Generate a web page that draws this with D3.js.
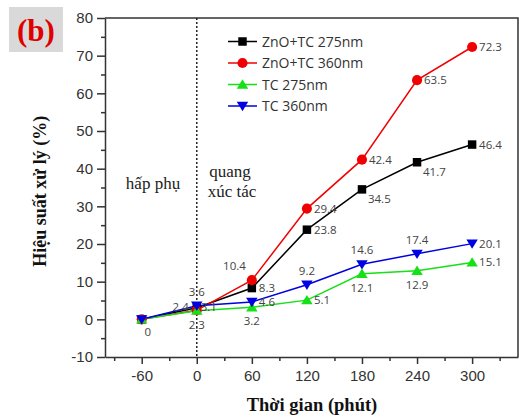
<!DOCTYPE html>
<html>
<head>
<meta charset="utf-8">
<script src="https://cdn.jsdelivr.net/npm/d3@7"></script>
<style>
  body { margin: 0; background: #fff; }
  svg { display: block; }
</style>
</head>
<body>
<div id="chart"></div>
<script>
// data
const times = [-60, 0, 60, 120, 180, 240, 300];
const zno275 = [0, 3.1, 8.3, 23.8, 34.5, 41.7, 46.4];
const zno360 = [0, 2.4, 10.4, 29.4, 42.4, 63.5, 72.3];
const tc275 = [0, 2.3, 3.2, 5.1, 12.1, 12.9, 15.1];
const tc360 = [0, 3.6, 4.6, 9.2, 14.6, 17.4, 20.1];
const seriesNames = ['ZnO+TC 275nm', 'ZnO+TC 360nm', 'TC 275nm', 'TC 360nm'];
const xTicks = [-60, 0, 60, 120, 180, 240, 300];
const yTicks = [-10, 0, 10, 20, 30, 40, 50, 60, 70, 80];

const W = 519, H = 418;
const m = { top: 18, right: 1, bottom: 61, left: 105 };

// where each value label sits relative to its point
const labelPos = [
  [null, 'hid', 'r', 'r', 'br', 'br', 'r'],
  [null, 'l', 'al', 'r', 'r', 'r', 'r'],
  [null, 'b', 'b', 'r', 'b', 'b', 'r'],
  ['b0', 'a', 'r', 'a', 'a', 'a', 'r']
];

const series = [
  { name: seriesNames[0], values: zno275, color: '#000000', shape: d3.symbolSquare },
  { name: seriesNames[1], values: zno360, color: '#f00000', shape: d3.symbolCircle },
  { name: seriesNames[2], values: tc275, color: '#16e016', shape: 'up' },
  { name: seriesNames[3], values: tc360, color: '#0000e0', shape: 'down' }
];

const svg = d3.select('#chart').append('svg')
  .attr('width', W).attr('height', H);

const x = d3.scaleLinear().domain([-100, 350]).range([m.left, W - m.right]);
const y = d3.scaleLinear().domain([-10, 80]).range([H - m.bottom, m.top]);

const axisColor = '#333';

// frame
svg.append('path')
  .attr('d', `M${x(-100)},${y(80)}H${x(350)}V${y(-10)}`)
  .attr('fill', 'none').attr('stroke', axisColor).attr('stroke-width', 1.5);

// minor ticks
svg.append('g')
  .attr('transform', `translate(0,${y(-10)})`)
  .call(d3.axisBottom(x).tickValues(d3.range(-90, 350, 60)).tickSize(4).tickFormat(''))
  .call(g => g.select('.domain').remove())
  .selectAll('line').attr('stroke', axisColor).attr('stroke-width', 1.5);
svg.append('g')
  .attr('transform', `translate(${x(-100)},0)`)
  .call(d3.axisLeft(y).tickValues(d3.range(-5, 80, 10)).tickSize(4).tickFormat(''))
  .call(g => g.select('.domain').remove())
  .selectAll('line').attr('stroke', axisColor).attr('stroke-width', 1.5);

// major axes (plain hyphen for negatives, as in the original)
const fmt = d => String(d);
const xAxis = svg.append('g')
  .attr('transform', `translate(0,${y(-10)})`)
  .call(d3.axisBottom(x).tickValues(xTicks).tickFormat(fmt).tickSize(7).tickPadding(6).tickSizeOuter(0));
const yAxis = svg.append('g')
  .attr('transform', `translate(${x(-100)},0)`)
  .call(d3.axisLeft(y).tickValues(yTicks).tickFormat(fmt).tickSize(8).tickPadding(4).tickSizeOuter(0));
[xAxis, yAxis].forEach(g => {
  g.select('.domain').attr('stroke', axisColor).attr('stroke-width', 1.5);
  g.selectAll('line').attr('stroke', axisColor).attr('stroke-width', 1.5);
  g.selectAll('text')
    .style('font-family', '"Liberation Sans", Arial, sans-serif')
    .style('font-size', '15px').attr('fill', '#333');
});

// dotted divider at t = 0
svg.append('line')
  .attr('x1', x(0)).attr('x2', x(0))
  .attr('y1', y(80)).attr('y2', y(-10))
  .attr('stroke', '#222').attr('stroke-width', 1.5)
  .attr('stroke-dasharray', '2,2');

// region texts
const serif = '"Liberation Serif", "DejaVu Serif", serif';
svg.append('text').text('hấp phụ')
  .attr('x', 153).attr('y', 189).attr('text-anchor', 'middle')
  .style('font-family', serif).style('font-size', '17px').attr('fill', '#222');
svg.append('text').text('quang')
  .attr('x', 230).attr('y', 177).attr('text-anchor', 'middle')
  .style('font-family', serif).style('font-size', '17px').attr('fill', '#222');
svg.append('text').text('xúc tác')
  .attr('x', 232).attr('y', 197).attr('text-anchor', 'middle')
  .style('font-family', serif).style('font-size', '17px').attr('fill', '#222');

// marker helper
function marker(sel, shape, color) {
  if (shape === 'up' || shape === 'down') {
    const s = 5.2, dir = shape === 'up' ? 1 : -1;
    sel.append('path')
      .attr('d', `M0,${-s * dir}L${s * 1.1},${s * 0.8 * dir}L${-s * 1.1},${s * 0.8 * dir}Z`)
      .attr('fill', color);
  } else {
    sel.append('path')
      .attr('d', d3.symbol().type(shape).size(shape === d3.symbolSquare ? 72 : 80)())
      .attr('fill', color);
  }
}

const line = d3.line().x((d, i) => x(times[i])).y(d => y(d));

// lines and markers
series.forEach(s => {
  svg.append('path')
    .datum(s.values)
    .attr('d', line)
    .attr('fill', 'none')
    .attr('stroke', s.color)
    .attr('stroke-width', 1.5);
});
series.forEach(s => {
  s.values.forEach((v, i) => {
    const g = svg.append('g').attr('transform', `translate(${x(times[i])},${y(v)})`);
    marker(g, s.shape, s.color);
  });
});

// value labels
const offsets = {
  r: [7, 4, 'start'], br: [6, 14, 'start'], l: [-8, 1, 'end'],
  al: [-6, -10, 'end'], a: [0, -10, 'middle'], b: [0, 18, 'middle'],
  b0: [6, 17, 'middle'], hid: [4, 3, 'start']
};
series.forEach((s, si) => {
  s.values.forEach((v, i) => {
    const p = labelPos[si][i];
    if (!p) return;
    const o = offsets[p];
    svg.append('text')
      .text(si === 3 && i === 0 ? '0' : v)
      .attr('x', x(times[i]) + o[0])
      .attr('y', y(v) + o[1])
      .attr('text-anchor', o[2])
      .style('font-family', '"Open Sans", sans-serif')
      .style('font-size', '11.5px')
      .attr('fill', '#444');
  });
});

// legend
const legendRows = [41.5, 63, 84.5, 106];
series.forEach((s, i) => {
  const g = svg.append('g').attr('transform', `translate(228,${legendRows[i]})`);
  g.append('line').attr('x1', 0).attr('x2', 29)
    .attr('stroke', s.color).attr('stroke-width', 1.5);
  const mk = g.append('g').attr('transform', 'translate(14.5,0)');
  marker(mk, s.shape, s.color);
  g.append('text').text(s.name)
    .attr('x', 34).attr('y', 5)
    .style('font-family', '"Open Sans", sans-serif')
    .style('font-size', '14px').attr('fill', '#333');
});

// axis titles
svg.append('text').text('Thời gian (phút)')
  .attr('x', 312).attr('y', 411).attr('text-anchor', 'middle')
  .style('font-family', serif).style('font-weight', 'bold')
  .style('font-size', '18.5px').attr('fill', '#111');
svg.append('text').text('Hiệu suất xử lý (%)')
  .attr('transform', `translate(46,${y(34)}) rotate(-90)`)
  .attr('text-anchor', 'middle')
  .style('font-family', serif).style('font-weight', 'bold')
  .style('font-size', '18px').attr('fill', '#111');

// panel tag
svg.append('rect')
  .attr('x', 9).attr('y', 7).attr('width', 54).attr('height', 45)
  .attr('fill', '#d9d9d9');
svg.append('text').text('(b)')
  .attr('x', 36).attr('y', 41).attr('text-anchor', 'middle')
  .style('font-family', serif).style('font-weight', 'bold')
  .style('font-size', '31px').attr('fill', '#e00000');
</script>
</body>
</html>
